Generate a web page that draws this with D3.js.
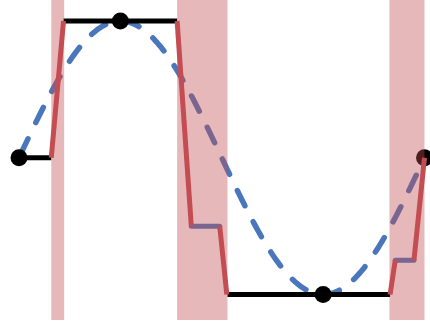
<!DOCTYPE html>
<html>
<head>
<meta charset="utf-8">
<script src="https://cdn.jsdelivr.net/npm/d3@7"></script>
<style>
  html, body { margin: 0; padding: 0; background: #fff; }
  svg { display: block; }
</style>
</head>
<body>
<script>
// ---- data (x in radians, y in sine units) ----
const sineSamples = d3.range(0, 201).map(i => i / 200 * 2 * Math.PI); // sample positions of the sine curve
const bands = [[0.5, 0.7], [2.45, 3.23], [5.74, 6.283]];
const blackFlats = [
  [[0, 0], [0.5, 0]],
  [[0.69, 1], [2.45, 1]],
  [[3.23, -1], [5.75, -1]]
];
const blueFlats = [
  [[2.67, -0.5], [3.11, -0.5]],
  [[5.83, -0.75], [6.12, -0.75]]
];
const redSegments = [
  [[0.5, 0], [0.69, 1]],
  [[2.45, 1], [2.67, -0.5]],
  [[3.11, -0.5], [3.22, -1]],
  [[5.75, -1], [5.83, -0.75]],
  [[6.12, -0.75], [6.283, 0]]
];
const dotsX = [0, Math.PI / 2, 3 * Math.PI / 2, 2 * Math.PI];
const dotsY = [0, 1, -1, 0];

const W = 430, H = 324;
const x = d3.scaleLinear().domain([0, 2 * Math.PI]).range([19, 424.5]);
const y = d3.scaleLinear().domain([-1, 1]).range([294.5, 21]);

const BLUE = "#4a76bb", RED = "#C44E52";

const svg = d3.select("body").append("svg").attr("width", W).attr("height", H);
const line = d3.line().x(d => x(d[0])).y(d => y(d[1]));

// sine dashed
svg.append("path")
  .datum(sineSamples.map(t => [t, Math.sin(t)]))
  .attr("d", line)
  .attr("fill", "none").attr("stroke", BLUE).attr("stroke-width", 5.5)
  .attr("stroke-dasharray", "17,18").attr("stroke-dashoffset", -4)
  .attr("stroke-linecap", "round");

// blue flats
svg.selectAll(".bf").data(blueFlats).join("path")
  .attr("d", line).attr("fill", "none").attr("stroke", BLUE)
  .attr("stroke-width", 5).attr("stroke-linecap", "round");

// black flats
svg.selectAll(".kf").data(blackFlats).join("path")
  .attr("d", line).attr("fill", "none").attr("stroke", "#000")
  .attr("stroke-width", 5).attr("stroke-linecap", "butt");

// dots
svg.selectAll(".dot").data(dotsX).join("circle")
  .attr("cx", d => x(d)).attr("cy", (d, i) => y(dotsY[i])).attr("r", 8.5)
  .attr("fill", "#000");

// red transitions
svg.selectAll(".rs").data(redSegments).join("path")
  .attr("d", line).attr("fill", "none").attr("stroke", RED)
  .attr("stroke-width", 5).attr("stroke-linecap", "butt");

// shaded bands on top
svg.selectAll(".band").data(bands).join("rect")
  .attr("x", d => x(d[0])).attr("width", d => x(d[1]) - x(d[0]))
  .attr("y", 0).attr("height", 320)
  .attr("fill", RED).attr("fill-opacity", 0.4);
</script>
</body>
</html>
